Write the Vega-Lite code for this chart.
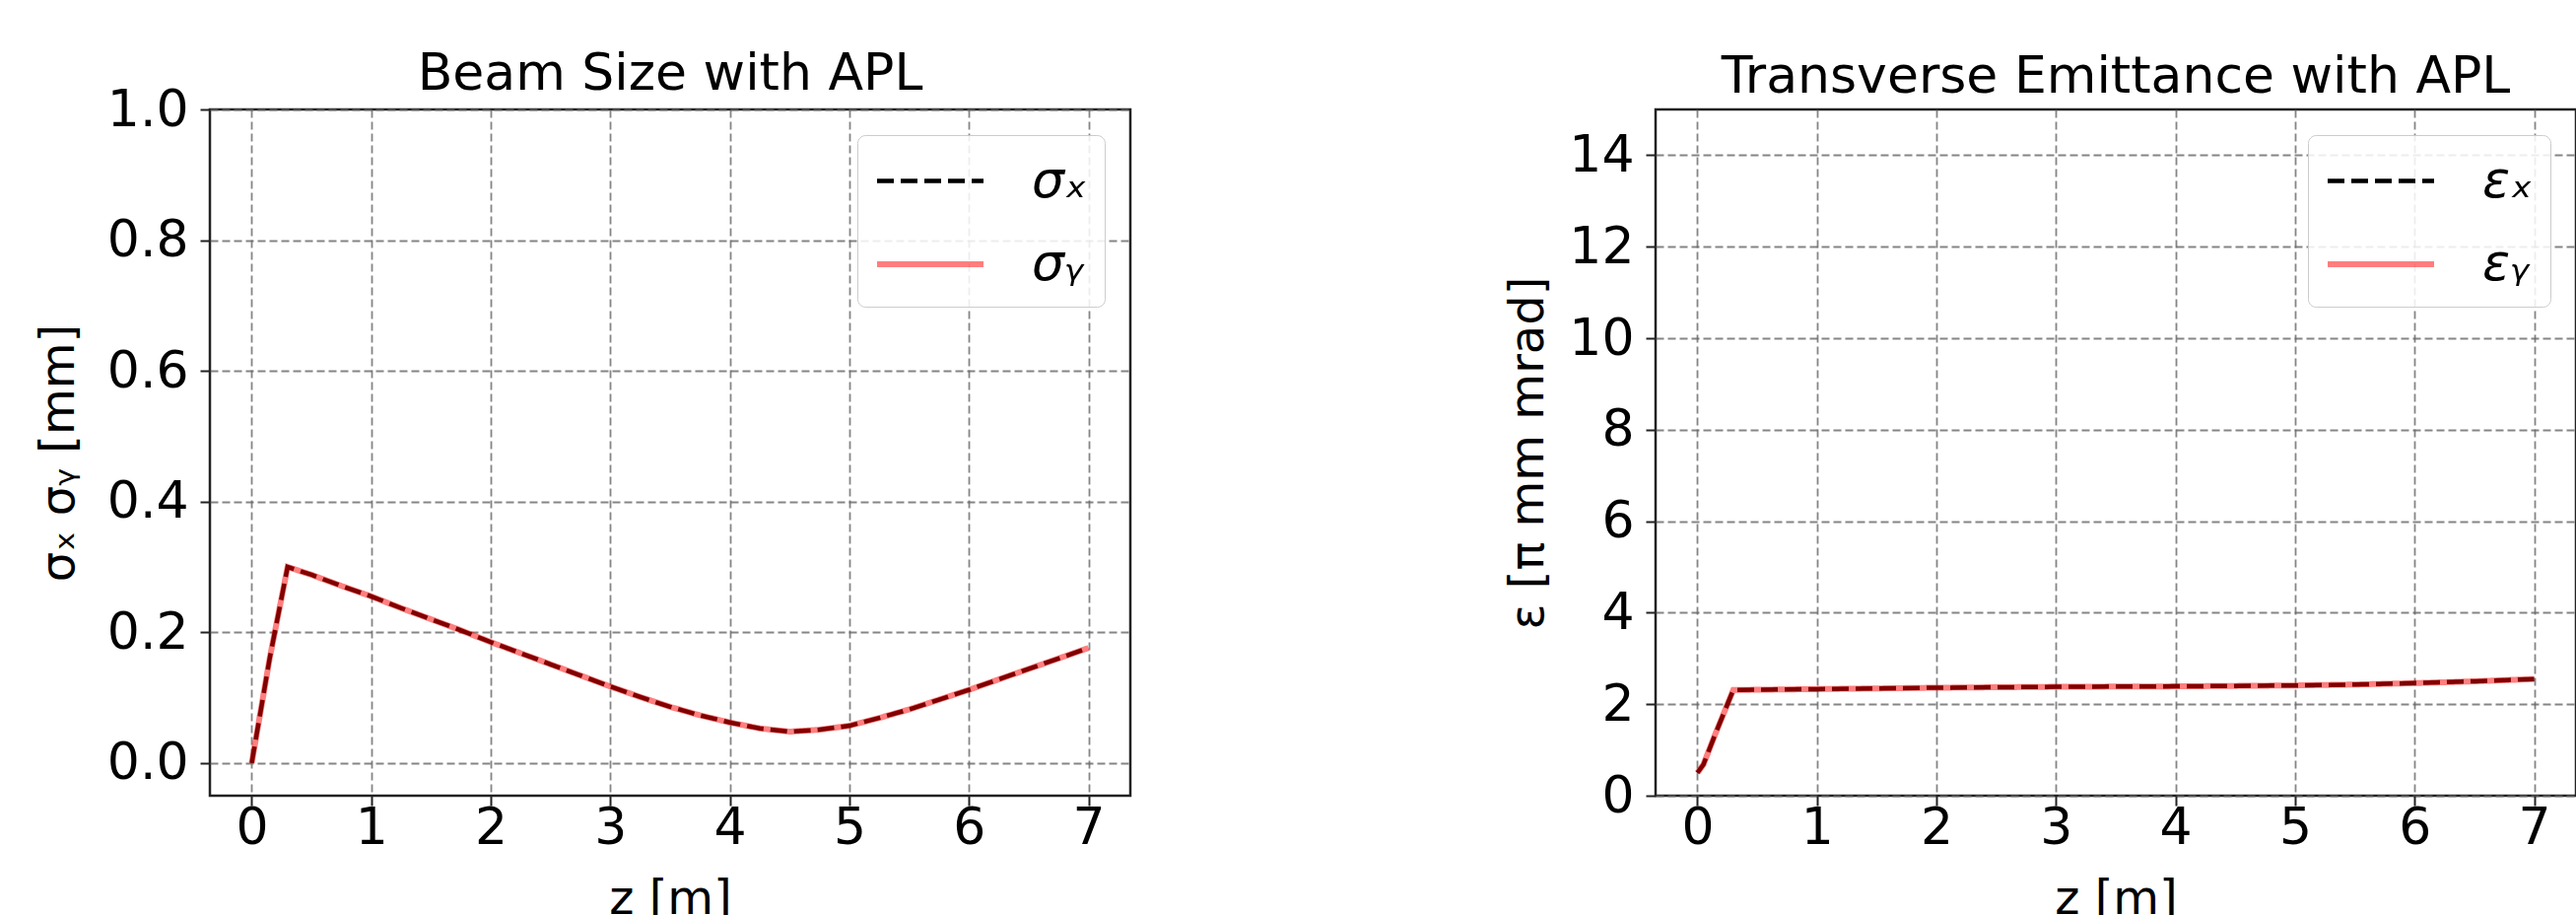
{
  "$schema": "https://vega.github.io/schema/vega-lite/v6.json",
  "padding": {"left": 35, "top": 47, "right": 0, "bottom": 0},
  "background": "white",
  "datasets": {
    "beam": [
      {"z": 0.0, "v": 0.0, "s": "σₓ"}, {"z": 0.15, "v": 0.16, "s": "σₓ"}, {"z": 0.3, "v": 0.3, "s": "σₓ"},
      {"z": 0.5, "v": 0.288, "s": "σₓ"}, {"z": 0.75, "v": 0.271, "s": "σₓ"}, {"z": 1.0, "v": 0.255, "s": "σₓ"},
      {"z": 1.25, "v": 0.237, "s": "σₓ"}, {"z": 1.5, "v": 0.22, "s": "σₓ"}, {"z": 1.75, "v": 0.203, "s": "σₓ"},
      {"z": 2.0, "v": 0.185, "s": "σₓ"}, {"z": 2.25, "v": 0.168, "s": "σₓ"}, {"z": 2.5, "v": 0.151, "s": "σₓ"},
      {"z": 2.75, "v": 0.134, "s": "σₓ"}, {"z": 3.0, "v": 0.117, "s": "σₓ"}, {"z": 3.25, "v": 0.101, "s": "σₓ"},
      {"z": 3.5, "v": 0.086, "s": "σₓ"}, {"z": 3.75, "v": 0.073, "s": "σₓ"}, {"z": 4.0, "v": 0.062, "s": "σₓ"},
      {"z": 4.25, "v": 0.053, "s": "σₓ"}, {"z": 4.5, "v": 0.048, "s": "σₓ"}, {"z": 4.75, "v": 0.051, "s": "σₓ"},
      {"z": 5.0, "v": 0.057, "s": "σₓ"}, {"z": 5.25, "v": 0.069, "s": "σₓ"}, {"z": 5.5, "v": 0.082, "s": "σₓ"},
      {"z": 5.75, "v": 0.097, "s": "σₓ"}, {"z": 6.0, "v": 0.112, "s": "σₓ"}, {"z": 6.25, "v": 0.128, "s": "σₓ"},
      {"z": 6.5, "v": 0.144, "s": "σₓ"}, {"z": 6.75, "v": 0.16, "s": "σₓ"}, {"z": 7.0, "v": 0.176, "s": "σₓ"},
      {"z": 0.0, "v": 0.0, "s": "σᵧ"}, {"z": 0.15, "v": 0.16, "s": "σᵧ"}, {"z": 0.3, "v": 0.3, "s": "σᵧ"},
      {"z": 0.5, "v": 0.288, "s": "σᵧ"}, {"z": 0.75, "v": 0.271, "s": "σᵧ"}, {"z": 1.0, "v": 0.255, "s": "σᵧ"},
      {"z": 1.25, "v": 0.237, "s": "σᵧ"}, {"z": 1.5, "v": 0.22, "s": "σᵧ"}, {"z": 1.75, "v": 0.203, "s": "σᵧ"},
      {"z": 2.0, "v": 0.185, "s": "σᵧ"}, {"z": 2.25, "v": 0.168, "s": "σᵧ"}, {"z": 2.5, "v": 0.151, "s": "σᵧ"},
      {"z": 2.75, "v": 0.134, "s": "σᵧ"}, {"z": 3.0, "v": 0.117, "s": "σᵧ"}, {"z": 3.25, "v": 0.101, "s": "σᵧ"},
      {"z": 3.5, "v": 0.086, "s": "σᵧ"}, {"z": 3.75, "v": 0.073, "s": "σᵧ"}, {"z": 4.0, "v": 0.062, "s": "σᵧ"},
      {"z": 4.25, "v": 0.053, "s": "σᵧ"}, {"z": 4.5, "v": 0.048, "s": "σᵧ"}, {"z": 4.75, "v": 0.051, "s": "σᵧ"},
      {"z": 5.0, "v": 0.057, "s": "σᵧ"}, {"z": 5.25, "v": 0.069, "s": "σᵧ"}, {"z": 5.5, "v": 0.082, "s": "σᵧ"},
      {"z": 5.75, "v": 0.097, "s": "σᵧ"}, {"z": 6.0, "v": 0.112, "s": "σᵧ"}, {"z": 6.25, "v": 0.128, "s": "σᵧ"},
      {"z": 6.5, "v": 0.144, "s": "σᵧ"}, {"z": 6.75, "v": 0.16, "s": "σᵧ"}, {"z": 7.0, "v": 0.176, "s": "σᵧ"}
    ],
    "emit": [
      {"z": 0.0, "v": 0.5, "s": "εₓ"}, {"z": 0.05, "v": 0.68, "s": "εₓ"}, {"z": 0.15, "v": 1.35, "s": "εₓ"},
      {"z": 0.3, "v": 2.31, "s": "εₓ"}, {"z": 1.0, "v": 2.33, "s": "εₓ"}, {"z": 2.0, "v": 2.36, "s": "εₓ"},
      {"z": 3.0, "v": 2.38, "s": "εₓ"}, {"z": 4.0, "v": 2.39, "s": "εₓ"}, {"z": 5.0, "v": 2.41, "s": "εₓ"},
      {"z": 5.5, "v": 2.43, "s": "εₓ"}, {"z": 6.0, "v": 2.46, "s": "εₓ"}, {"z": 6.5, "v": 2.5, "s": "εₓ"},
      {"z": 7.0, "v": 2.55, "s": "εₓ"},
      {"z": 0.0, "v": 0.5, "s": "εᵧ"}, {"z": 0.05, "v": 0.68, "s": "εᵧ"}, {"z": 0.15, "v": 1.35, "s": "εᵧ"},
      {"z": 0.3, "v": 2.31, "s": "εᵧ"}, {"z": 1.0, "v": 2.33, "s": "εᵧ"}, {"z": 2.0, "v": 2.36, "s": "εᵧ"},
      {"z": 3.0, "v": 2.38, "s": "εᵧ"}, {"z": 4.0, "v": 2.39, "s": "εᵧ"}, {"z": 5.0, "v": 2.41, "s": "εᵧ"},
      {"z": 5.5, "v": 2.43, "s": "εᵧ"}, {"z": 6.0, "v": 2.46, "s": "εᵧ"}, {"z": 6.5, "v": 2.5, "s": "εᵧ"},
      {"z": 7.0, "v": 2.55, "s": "εᵧ"}
    ]
  },
  "config": {
    "font": "DejaVu Sans",
    "view": {"stroke": "#222222", "strokeWidth": 2.5},
    "axis": {
      "domain": false,
      "labelFont": "DejaVu Sans",
      "labelFontSize": 52,
      "labelColor": "#000000",
      "tickSize": 10,
      "tickWidth": 2,
      "tickColor": "#222222",
      "titleFont": "DejaVu Sans",
      "titleFontSize": 48,
      "titleFontWeight": "normal",
      "titleColor": "#000000",
      "gridColor": "#666666",
      "gridOpacity": 0.8,
      "gridWidth": 1.8,
      "gridDash": [8, 4],
      "labelFlush": false,
      "labelOverlap": false
    },
    "axisX": {"labelPadding": -3},
    "axisY": {"labelPadding": 12},
    "title": {"fontSize": 52, "fontWeight": "normal", "font": "DejaVu Sans", "color": "#000000", "baseline": "alphabetic", "frame": "group"},
    "legend": {
      "orient": "top-right",
      "offset": 26,
      "title": null,
      "symbolType": "M-1,0L3,0",
      "symbolSize": 2916,
      "labelFontSize": 52,
      "labelFont": "DejaVu Sans",
      "labelFontStyle": "italic",
      "labelColor": "#000000",
      "labelOffset": 100,
      "padding": 17,
      "rowPadding": 28,
      "strokeColor": "#cccccc",
      "fillColor": "rgba(255,255,255,0.85)",
      "cornerRadius": 8
    }
  },
  "hconcat": [
    {
      "title": {"text": "Beam Size with APL", "offset": -17},
      "width": 934,
      "height": 696,
      "data": {"name": "beam"},
      "mark": {"type": "line", "clip": true},
      "encoding": {
        "x": {"field": "z", "type": "quantitative", "scale": {"domain": [-0.35, 7.35], "nice": false, "zero": false},
              "axis": {"title": "z [m]", "values": [0, 1, 2, 3, 4, 5, 6, 7], "titlePadding": 23}},
        "y": {"field": "v", "type": "quantitative", "scale": {"domain": [-0.05, 1.0], "nice": false, "zero": false},
              "axis": {"title": "σₓ  σᵧ  [mm]", "values": [0, 0.2, 0.4, 0.6, 0.8, 1.0], "format": ".1f", "titlePadding": 24}},
        "color": {"field": "s", "type": "nominal", "scale": {"domain": ["σₓ", "σᵧ"], "range": ["#000000", "#ff0000"]}},
        "strokeDash": {"field": "s", "type": "nominal", "scale": {"domain": ["σₓ", "σᵧ"], "range": [[17, 7], [1, 0]]}},
        "opacity": {"field": "s", "type": "nominal", "scale": {"domain": ["σₓ", "σᵧ"], "range": [1, 0.5]}},
        "strokeWidth": {"field": "s", "type": "nominal", "scale": {"domain": ["σₓ", "σᵧ"], "range": [4.5, 6]}}
      }
    },
    {
      "title": {"text": "Transverse Emittance with APL", "offset": 6},
      "width": 934,
      "height": 696,
      "data": {"name": "emit"},
      "mark": {"type": "line", "clip": true},
      "encoding": {
        "x": {"field": "z", "type": "quantitative", "scale": {"domain": [-0.35, 7.35], "nice": false, "zero": false},
              "axis": {"title": "z [m]", "values": [0, 1, 2, 3, 4, 5, 6, 7], "titlePadding": 23}},
        "y": {"field": "v", "type": "quantitative", "scale": {"domain": [0, 15], "nice": false, "zero": false},
              "axis": {"title": "ε  [π mm mrad]", "values": [0, 2, 4, 6, 8, 10, 12, 14], "titlePadding": 16}},
        "color": {"field": "s", "type": "nominal", "scale": {"domain": ["εₓ", "εᵧ"], "range": ["#000000", "#ff0000"]}},
        "strokeDash": {"field": "s", "type": "nominal", "scale": {"domain": ["εₓ", "εᵧ"], "range": [[17, 7], [1, 0]]}},
        "opacity": {"field": "s", "type": "nominal", "scale": {"domain": ["εₓ", "εᵧ"], "range": [1, 0.5]}},
        "strokeWidth": {"field": "s", "type": "nominal", "scale": {"domain": ["εₓ", "εᵧ"], "range": [4.5, 6]}}
      }
    }
  ],
  "resolve": {"scale": {"color": "independent", "strokeDash": "independent", "opacity": "independent", "strokeWidth": "independent"}, "legend": {"color": "independent", "strokeDash": "independent", "opacity": "independent", "strokeWidth": "independent"}},
  "bounds": "flush",
  "spacing": 533
}
